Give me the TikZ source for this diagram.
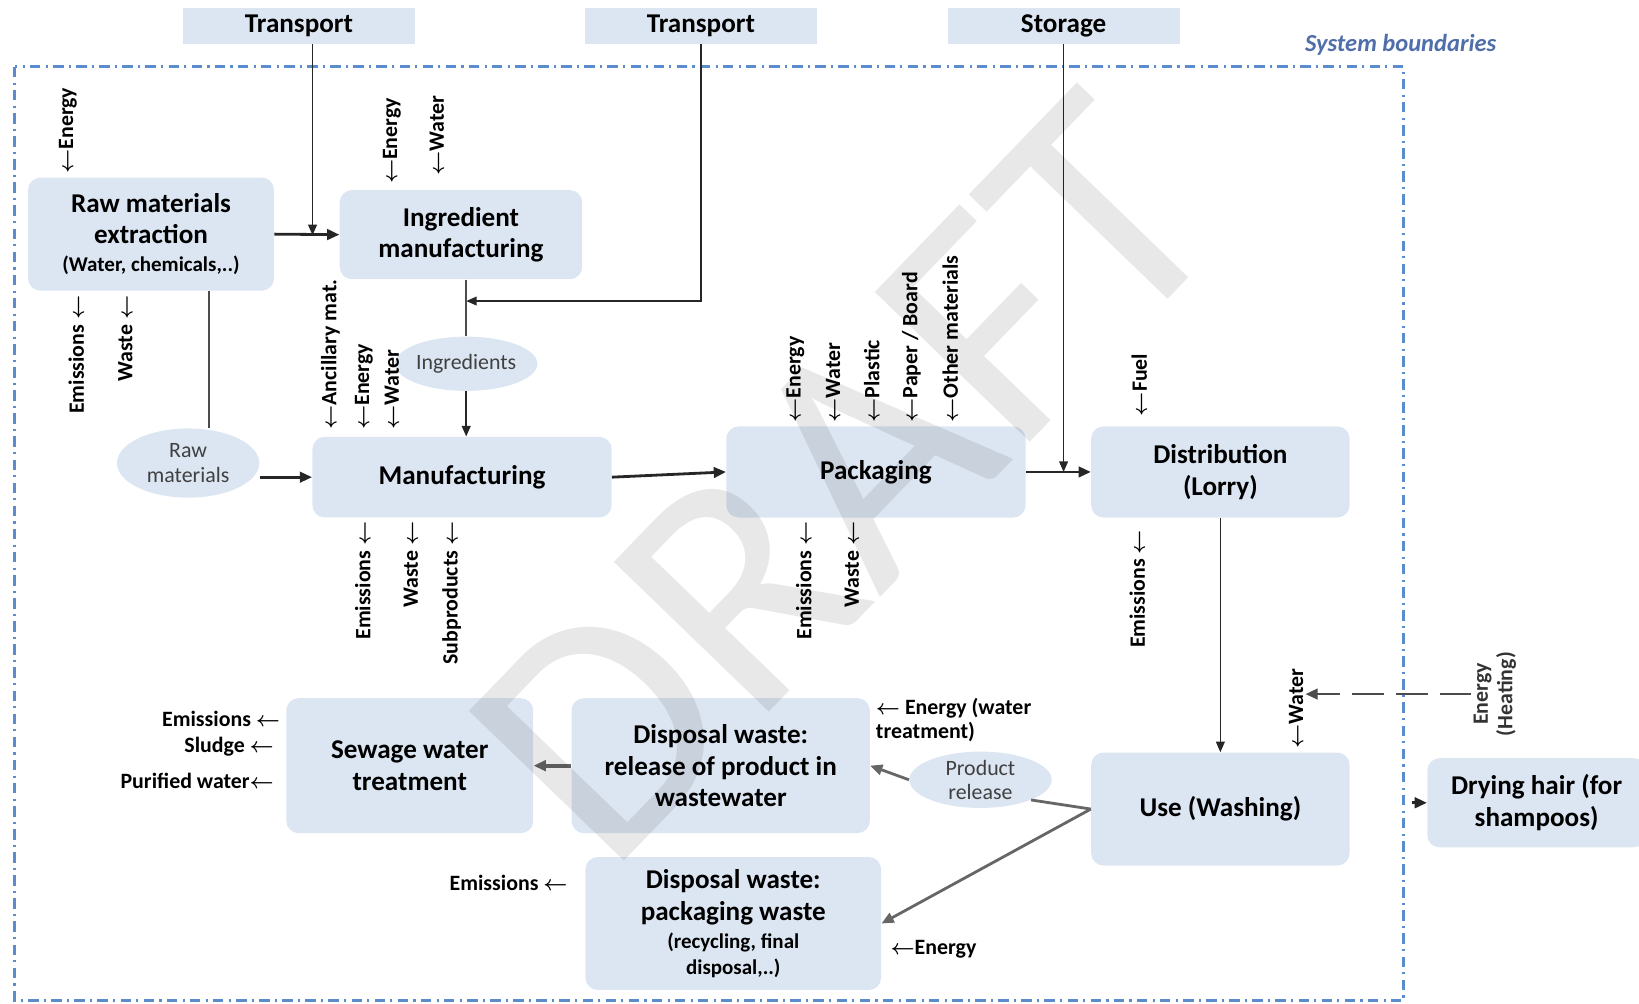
\documentclass[tikz,border=0pt]{standalone}
\usepackage{fontspec}
\setmainfont{Carlito}
\usetikzlibrary{shapes.geometric, arrows.meta, positioning}

\definecolor{boxblue}{RGB}{220,230,242}
\definecolor{bndblue}{RGB}{91,140,205}
\definecolor{bndtext}{RGB}{79,110,170}
\newcommand{\flowarrow}{{\boldmath$\leftarrow$}}

\begin{document}
\begin{tikzpicture}[
    x=0.021cm, y=-0.021cm,
    stage/.style={rectangle, fill=boxblue, rounded corners=7pt, inner sep=2pt, align=center, font=\bfseries\fontsize{15.5}{18}\selectfont},
    topbox/.style={rectangle, fill=boxblue, inner sep=0pt, minimum width=4.66cm, minimum height=0.71cm, font=\bfseries\fontsize{15.5}{18}\selectfont},
    flowell/.style={ellipse, fill=boxblue, inner sep=0pt, minimum width=2.86cm, align=center, text=black!75, font=\fontsize{12.5}{14}\selectfont},
    inlbl/.style={rotate=90, anchor=west, inner sep=1pt, font=\bfseries\fontsize{12.5}{13}\selectfont},
    outlbl/.style={rotate=90, anchor=east, inner sep=1pt, font=\bfseries\fontsize{12.5}{13}\selectfont},
    sidelbl/.style={inner sep=1pt, align=left, font=\bfseries\fontsize{12.5}{14}\selectfont},
    flow/.style={-{Triangle[length=7pt,width=6pt]}, line width=1.6pt, draw=black!85},
    thinflow/.style={-{Triangle[length=6pt,width=5pt]}, line width=0.9pt, draw=black!85},
    grayflow/.style={flow, draw=black!60},
    boundary/.style={draw=bndblue, line width=1.8pt, dash pattern=on 6pt off 3pt on 1.2pt off 3pt},
    watermark/.style={rotate=46, text=black, text opacity=0.09, font=\fontsize{192}{192}\selectfont}
]
\useasboundingbox (0,0) rectangle (1568,960);

% System boundary
\draw[boundary] (14,64) rectangle (1343,957);
\node[font=\bfseries\itshape\fontsize{14}{16}\selectfont, text=bndtext] (sysb) at (1340,43) {System boundaries};

% Outside stages
\node[topbox] (tr1) at (286,25) {Transport};
\node[topbox] (tr2) at (670.5,25) {Transport};
\node[topbox] (stor) at (1017.5,25) {Storage};

% Life cycle stages
\node[stage, minimum width=4.94cm, minimum height=2.27cm] (rawext) at (144.5,224) {Raw materials\\extraction\\[-2pt]{\fontsize{12}{14}\selectfont (Water, chemicals,..)}};
\node[stage, minimum width=4.87cm, minimum height=1.79cm] (ingman) at (441,224.5) {Ingredient\\manufacturing};
\node[stage, minimum width=6.01cm, minimum height=1.62cm] (manuf) at (442,456.5) {Manufacturing};
\node[stage, minimum width=6.01cm, minimum height=1.83cm] (pack) at (838,451.5) {Packaging};
\node[stage, minimum width=5.19cm, minimum height=1.83cm] (distr) at (1167.5,451.5) {Distribution\\(Lorry)};
\node[stage, minimum width=5.19cm, minimum height=2.27cm] (use) at (1167.5,774) {Use (Washing)};
\node[stage, minimum width=4.39cm, minimum height=1.79cm] (dry) at (1470,768) {Drying hair (for\\shampoos)};
\node[stage, minimum width=4.96cm, minimum height=2.71cm] (sewage) at (392,732.5) {Sewage water\\treatment};
\node[stage, minimum width=5.99cm, minimum height=2.71cm] (disprel) at (689.5,732.5) {Disposal waste:\\release of product in\\wastewater};
\node[stage, minimum width=5.94cm, minimum height=2.67cm] (disppack) at (701.5,883.5) {Disposal waste:\\packaging waste\\[-2pt]{\fontsize{12}{14}\selectfont (recycling, final}\\[-3pt]{\fontsize{12}{14}\selectfont disposal,..)}};

% Intermediate flows
\node[flowell, minimum height=1.09cm] (ingr) at (446,348) {Ingredients};
\node[flowell, minimum height=1.39cm] (rawmat) at (180,443) {Raw\\materials};
\node[flowell, minimum height=1.09cm] (prodrel) at (938,746) {Product\\release};

% Inputs and outputs
\node[inlbl] (rawE) at (65,168) {\flowarrow Energy};
\node[outlbl] (rawEm) at (73,281) {Emissions \flowarrow};
\node[outlbl] (rawWa) at (120,281) {Waste \flowarrow};
\node[inlbl] (ingE) at (375,178) {\flowarrow Energy};
\node[inlbl] (ingW) at (418,170) {\flowarrow Water};
\node[inlbl] (manA) at (316,413) {\flowarrow Ancillary mat.};
\node[inlbl] (manE) at (348,413) {\flowarrow Energy};
\node[inlbl] (manW) at (375,413) {\flowarrow Water};
\node[outlbl] (manEm) at (347,497) {Emissions \flowarrow};
\node[outlbl] (manWa) at (393,497) {Waste \flowarrow};
\node[outlbl] (manSu) at (432,497) {Subproducts \flowarrow};
\node[inlbl] (pakE) at (761,406) {\flowarrow Energy};
\node[inlbl] (pakW) at (797,406) {\flowarrow Water};
\node[inlbl] (pakP) at (834,406) {\flowarrow Plastic};
\node[inlbl] (pakB) at (872,406) {\flowarrow Paper / Board};
\node[inlbl] (pakO) at (909,406) {\flowarrow Other materials};
\node[outlbl] (pakEm) at (769,497) {Emissions \flowarrow};
\node[outlbl] (pakWa) at (815,497) {Waste \flowarrow};
\node[inlbl] (disF) at (1090,400) {\flowarrow Fuel};
\node[outlbl] (disEm) at (1088,505) {Emissions \flowarrow};
\node[inlbl] (useW) at (1240,718) {\flowarrow Water};
\node[rotate=90, align=center, inner sep=1pt, text=black!80, font=\bfseries\fontsize{12.5}{14}\selectfont] (heat) at (1430,664) {Energy\\(Heating)};
\node[sidelbl, anchor=east] (sewEm) at (270,688) {Emissions \flowarrow};
\node[sidelbl, anchor=east] (sewSl) at (264,714) {Sludge \flowarrow};
\node[sidelbl, anchor=east] (sewPu) at (264,747) {Purified water\flowarrow};
\node[sidelbl, anchor=west] (drEn) at (836,689) {\flowarrow\ Energy (water\\treatment)};
\node[sidelbl, anchor=east] (dpEm) at (545,845) {Emissions \flowarrow};
\node[sidelbl, anchor=west] (dpkEn) at (850,908) {\flowarrow Energy};

% Flow connections
\coordinate (j1) at (299,225);
\coordinate (j2) at (446,288);
\coordinate (j3) at (200,300);

% Transport -> raw / ingredient link
\draw[thinflow] (tr1.south -| j1) -- (j1);
% Raw materials extraction -> Ingredient manufacturing
\draw[flow] (rawext.east) -- (ingman.west);
% Transport -> Ingredients line
\draw[thinflow] (tr2.south) |- (j2);
% Ingredient manufacturing -> Ingredients -> Manufacturing
\draw[line width=0.9pt, black!70] (ingman.south -| ingr) -- (ingr.north);
\draw[thinflow] (ingr.south) -- (manuf.north -| ingr);
% Raw materials extraction -> Raw materials -> Manufacturing
\draw[line width=0.9pt, black!70] (rawext.south -| j3) -- (rawmat.north -| j3);
\draw[flow] (rawmat.east |- manuf) -- (manuf.west);
% Manufacturing -> Packaging -> Distribution
\draw[flow] (manuf.east) -- (pack.west);
\draw[thinflow] (stor.south) -- (stor.south |- pack.east);
\draw[flow] (pack.east) -- (distr.west);
% Distribution -> Use
\draw[thinflow] (distr.south) -- (use.north);
% Use -> Product release -> Disposal (wastewater) -> Sewage
\draw[grayflow, -] (use.west) -- (prodrel.south east);
\draw[grayflow] (prodrel.west) -- (disprel.east);
\draw[grayflow, line width=2.4pt] (disprel.west) -- (sewage.east);
% Use -> Disposal (packaging)
\draw[grayflow] (use.west) -- (disppack.east);
% Energy (heating) -> Use
\draw[flow, draw=black!70, dash pattern=on 18pt off 7pt] (heat.north) -- (heat.north -| useW.south);
% Use -> Drying hair
\draw[flow] ([xshift=-0.3cm]dry.west) -- (dry.west);

% Watermark
\node[watermark] (draft) at (808,458) {DRAFT};

\end{tikzpicture}
\end{document}
